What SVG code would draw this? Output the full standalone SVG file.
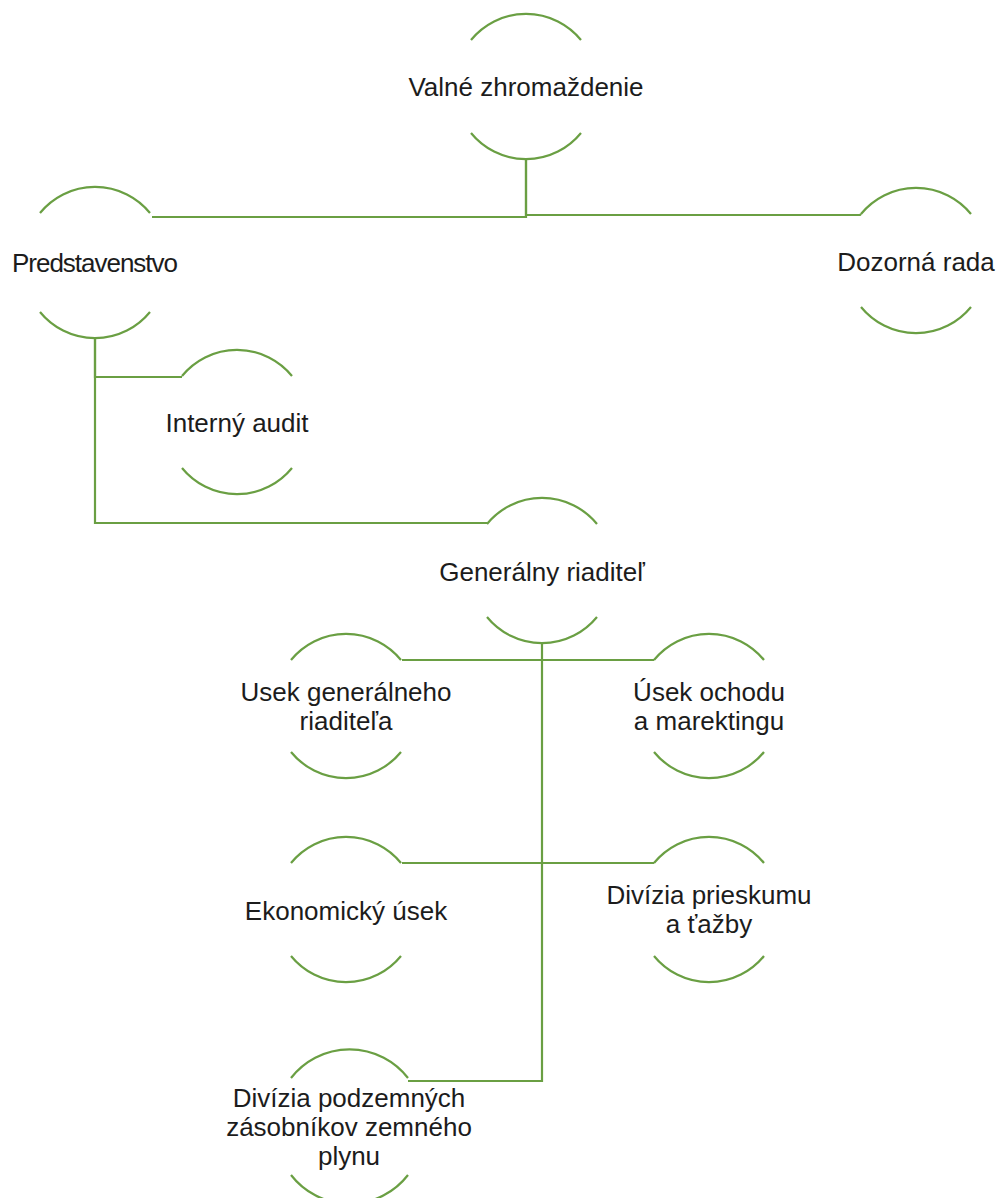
<svg xmlns="http://www.w3.org/2000/svg" width="1000" height="1198" viewBox="0 0 1000 1198">
  <style>
    .arc { fill: none; stroke: #6a9f43; stroke-width: 2.2; }
    .conn { fill: none; stroke: #6a9f43; stroke-width: 2.2; }
    .lbl { font-family: "Liberation Sans", Arial, sans-serif; font-size: 26px; fill: #1c1c1c; text-anchor: middle; }
  </style>
  <rect width="1000" height="1198" fill="#ffffff"/>
  <g id="connectors">
    <polyline class="conn" points="526,158 526,217 152,217"/>
    <polyline class="conn" points="526,158 526,215 860,215 861,214"/>
    <polyline class="conn" points="95,338 95,377 182,377"/>
    <polyline class="conn" points="95,338 95,523 487,523"/>
    <polyline class="conn" points="542,644 542,660 402,660"/>
    <polyline class="conn" points="542,660 654,660"/>
    <polyline class="conn" points="542,660 542,863 402,863"/>
    <polyline class="conn" points="542,863 654,863"/>
    <polyline class="conn" points="542,863 542,1081 408,1081"/>
  </g>
  <g id="valne">
    <path class="arc" d="M471,40 A71,71 0 0 1 581,40"/>
    <path class="arc" d="M471,133 A71,71 0 0 0 581,133"/>
    <text class="lbl" x="526" y="96">Valné zhromaždenie</text>
  </g>
  <g id="predstavenstvo">
    <path class="arc" d="M40,213 A71,71 0 0 1 150,213"/>
    <path class="arc" d="M40,312 A71,71 0 0 0 150,312"/>
    <text class="lbl" x="95" y="272" textLength="166">Predstavenstvo</text>
  </g>
  <g id="dozorna">
    <path class="arc" d="M861,214 A71,71 0 0 1 971,214"/>
    <path class="arc" d="M861,307 A71,71 0 0 0 971,307"/>
    <text class="lbl" x="916" y="271">Dozorná rada</text>
  </g>
  <g id="interny">
    <path class="arc" d="M182,376 A71,71 0 0 1 292,376"/>
    <path class="arc" d="M182,468 A71,71 0 0 0 292,468"/>
    <text class="lbl" x="237" y="432">Interný audit</text>
  </g>
  <g id="generalny">
    <path class="arc" d="M487,524 A71,71 0 0 1 597,524"/>
    <path class="arc" d="M487,617 A71,71 0 0 0 597,617"/>
    <text class="lbl" x="542" y="581">Generálny riaditeľ</text>
  </g>
  <g id="usek-gr">
    <path class="arc" d="M291,660 A71,71 0 0 1 401,660"/>
    <path class="arc" d="M291,752 A71,71 0 0 0 401,752"/>
    <text class="lbl" x="346" y="701">Usek generálneho</text>
    <text class="lbl" x="346" y="730">riaditeľa</text>
  </g>
  <g id="usek-om">
    <path class="arc" d="M654,660 A71,71 0 0 1 764,660"/>
    <path class="arc" d="M654,752 A71,71 0 0 0 764,752"/>
    <text class="lbl" x="709" y="701">Úsek ochodu</text>
    <text class="lbl" x="709" y="730">a marektingu</text>
  </g>
  <g id="ekonomicky">
    <path class="arc" d="M291,863 A71,71 0 0 1 401,863"/>
    <path class="arc" d="M291,956 A71,71 0 0 0 401,956"/>
    <text class="lbl" x="346" y="920">Ekonomický úsek</text>
  </g>
  <g id="divizia-pt">
    <path class="arc" d="M654,863 A71,71 0 0 1 764,863"/>
    <path class="arc" d="M654,956 A71,71 0 0 0 764,956"/>
    <text class="lbl" x="709" y="904">Divízia prieskumu</text>
    <text class="lbl" x="709" y="933">a ťažby</text>
  </g>
  <g id="divizia-pzzp">
    <path class="arc" d="M291,1078 A74,74 0 0 1 408,1078"/>
    <path class="arc" d="M291,1175 A74,74 0 0 0 408,1175"/>
    <text class="lbl" x="349" y="1107">Divízia podzemných</text>
    <text class="lbl" x="349" y="1136">zásobníkov zemného</text>
    <text class="lbl" x="349" y="1165">plynu</text>
  </g>
</svg>
